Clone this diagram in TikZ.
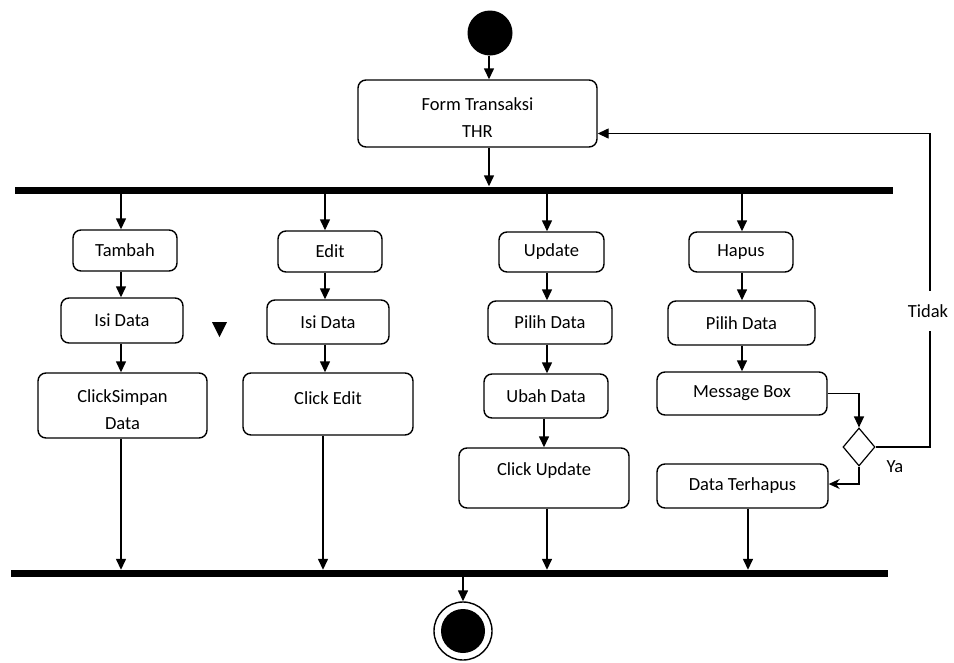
\documentclass[tikz,border=0pt]{standalone}
\usepackage{fontspec}
\setmainfont{Carlito}
\usetikzlibrary{arrows.meta,shapes.geometric,calc}
\begin{document}
\begin{tikzpicture}[x=1pt,y=-1pt,
  font=\fontsize{18.5}{27}\selectfont,
  abox/.style={draw, rounded corners=8pt, line width=1.4pt, inner sep=0pt, align=center},
  txt/.style={inner sep=0pt, align=center},
  bar/.style={fill=black, inner sep=0pt, minimum height=7pt},
  arr/.style={line width=1.4pt, -{Triangle[length=11pt,width=10pt]}},
  con/.style={line width=1.4pt}]
\fill[white] (0,0) rectangle (954,662);
\useasboundingbox (0,0) rectangle (954,662);

% start
\node[circle, fill=black, minimum size=45pt, inner sep=0pt] (start) at (490,33) {};
% form
\node[abox, minimum width=239pt, minimum height=67pt] (form) at (477.5,113.5) {};
\node[txt] (formt) at (477.5,118) {Form Transaksi\\THR};
\coordinate (cS) at (489,0);
\coordinate (fin) at ($(form.east)+(0,20)$);

% bars
\node[bar, minimum width=878pt] (fork) at (454,190) {};
\node[bar, minimum width=877pt] (join) at (449.5,573.5) {};

% column coordinates
\coordinate (cA) at (121,0);
\coordinate (cB) at (325,0);
\coordinate (cB2) at (323,0);
\coordinate (cC) at (547,0);
\coordinate (cC2) at (544,0);
\coordinate (cD) at (742,0);
\coordinate (cD2) at (748,0);

% column A
\node[abox, minimum width=104pt, minimum height=41pt] (tambah) at (125,250.5) {Tambah};
\node[abox, minimum width=122pt, minimum height=45pt] (isiA) at (122,320.5) {Isi Data};
\node[abox, minimum width=169pt, minimum height=65pt] (simpan) at (122.5,405.5) {};
\node[txt] (simpant) at (122.5,410) {ClickSimpan\\Data};

% column B
\node[abox, minimum width=104pt, minimum height=41pt] (edit) at (330,251.5) {Edit};
\node[abox, minimum width=122pt, minimum height=44pt] (isiB) at (328,322) {Isi Data};
\node[abox, minimum width=170pt, minimum height=62pt] (cedit) at (328,404) {};
\node[txt] (cedAt) at (328,398) {Click Edit};

% column C
\node[abox, minimum width=105pt, minimum height=40pt] (update) at (551.5,252) {Update};
\node[abox, minimum width=124pt, minimum height=43pt] (pilihC) at (550,322.5) {Pilih Data};
\node[abox, minimum width=124pt, minimum height=44pt] (ubah) at (546,396) {Ubah Data};
\node[abox, minimum width=170pt, minimum height=60pt] (cupd) at (544,478) {};
\node[txt] (cupdt) at (544,471) {Click Update};

% column D
\node[abox, minimum width=104pt, minimum height=40pt] (hapus) at (741,252) {Hapus};
\node[abox, minimum width=147pt, minimum height=44pt] (pilihD) at (741.5,323) {Pilih Data};
\node[abox, minimum width=170pt, minimum height=43pt] (msg) at (742,393.5) {Message Box};
\node[abox, minimum width=171pt, minimum height=44pt] (terhapus) at (742.5,486) {Data Terhapus};

% decision
\node[diamond, draw, line width=1.2pt, minimum width=32pt, minimum height=38pt, inner sep=0pt] (dec) at (859,447) {};
\coordinate (tR) at (930,0);

% end
\node[circle, draw, line width=1.4pt, minimum size=58pt, inner sep=0pt] (endo) at (463,631) {};
\node[circle, fill=black, minimum size=44pt, inner sep=0pt] (endi) at (463,631) {};

% stray mark
\fill (212,322) -- (227,322) -- (219.5,337) -- cycle;

% connectors
\draw[arr] (start.south -| cS) -- (form.north -| cS);
\draw[arr] (form.south -| cS) -- (fork.north -| cS);

\draw[arr] (fork.south -| cA) -- (tambah.north -| cA);
\draw[arr] (tambah.south -| cA) -- (isiA.north -| cA);
\draw[arr] (isiA.south -| cA) -- (simpan.north -| cA);
\draw[arr] (simpan.south -| cA) -- (join.north -| cA);

\draw[arr] (fork.south -| cB) -- (edit.north -| cB);
\draw[arr] (edit.south -| cB) -- (isiB.north -| cB);
\draw[arr] (isiB.south -| cB) -- (cedit.north -| cB);
\draw[arr] (cedit.south -| cB2) -- (join.north -| cB2);

\draw[arr] (fork.south -| cC) -- (update.north -| cC);
\draw[arr] (update.south -| cC) -- (pilihC.north -| cC);
\draw[arr] (pilihC.south -| cC) -- (ubah.north -| cC);
\draw[arr] (ubah.south -| cC2) -- (cupd.north -| cC2);
\draw[arr] (cupd.south -| cC) -- (join.north -| cC);

\draw[arr] (fork.south -| cD) -- (hapus.north -| cD);
\draw[arr] (hapus.south -| cD) -- (pilihD.north -| cD);
\draw[arr] (pilihD.south -| cD) -- (msg.north -| cD);
\draw[arr] (terhapus.south -| cD2) -- (join.north -| cD2);

\draw[arr] (msg.east) -| (dec.north);
\draw[line width=1.4pt, -{Stealth[length=11pt,width=10pt]}] (dec.south) |- ([yshift=2pt]terhapus.east);
\draw[arr] (dec.east) -| (tR |- dec.east) -- (tR |- fin) -- (fin);
\node[fill=white, inner xsep=3pt, inner ysep=14pt] (tidak) at (928,311) {Tidak};
\node[txt] (ya) at (895,467) {Ya};

\draw[arr] (join.south -| endo) -- (endo.north);
\end{tikzpicture}
\end{document}
